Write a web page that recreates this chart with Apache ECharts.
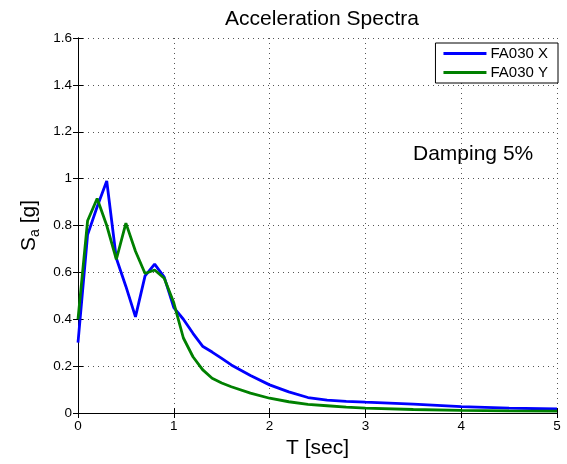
<!DOCTYPE html>
<html>
<head>
<meta charset="utf-8">
<script src="https://cdn.jsdelivr.net/npm/echarts@6/dist/echarts.min.js"></script>
<style>html,body{margin:0;padding:0;background:#fff}#c{width:567px;height:464px}</style>
</head>
<body>
<div id="c"></div>
<script>
var periods = [0,0.1,0.2,0.3,0.4,0.5,0.6,0.7,0.8,0.9,1.0,1.1,1.2,1.3,1.4,1.5,1.6,1.8,2.0,2.2,2.4,2.6,2.8,3.0,3.5,4.0,4.5,5.0];
var saX = [0.30,0.76,0.88,0.99,0.66,0.54,0.41,0.585,0.635,0.58,0.45,0.40,0.34,0.285,0.26,0.233,0.205,0.16,0.12,0.09,0.066,0.055,0.05,0.046,0.038,0.027,0.021,0.017];
var saY = [0.40,0.82,0.915,0.80,0.655,0.81,0.69,0.595,0.61,0.575,0.47,0.32,0.24,0.185,0.148,0.128,0.112,0.085,0.063,0.048,0.037,0.031,0.025,0.021,0.015,0.011,0.009,0.008];
var seriesNames = ['FA030 X','FA030 Y'];
var xTicks = [0,1,2,3,4,5];
var yTicks = [0,0.2,0.4,0.6,0.8,1,1.2,1.4,1.6];

function pairs(xs, ys){ return xs.map(function(x,i){return [x, ys[i]];}); }
var font = 'Liberation Sans, Arial, Helvetica, sans-serif';
var chart = echarts.init(document.getElementById('c'), null, {renderer:'canvas'});
var axisCommon = {
  axisLine:{show:true,lineStyle:{color:'#000',width:1}},
  axisTick:{show:true,inside:true,length:5,lineStyle:{color:'#000'}},
  splitLine:{show:false}
};
chart.setOption({
  animation:false,
  backgroundColor:'#fff',
  title:{text:'Acceleration Spectra',left:317,textAlign:'center',top:4,
    textStyle:{fontFamily:font,fontSize:21,fontWeight:'normal',color:'#000'}},
  legend:{right:9,top:43,orient:'vertical',data:seriesNames,
    backgroundColor:'#fff',borderColor:'#000',borderWidth:1,padding:[3,10,3,8],itemGap:4,
    icon:'rect',itemWidth:43,itemHeight:3,
    textStyle:{fontFamily:font,fontSize:15,color:'#000',padding:[0,0,0,-1]}},
  grid:{left:78,right:10,top:38,bottom:51,containLabel:false},
  xAxis:[
    Object.assign({type:'value',min:0,max:5,interval:1,position:'bottom',
      name:'T [sec]',nameLocation:'middle',nameGap:18,
      nameTextStyle:{fontFamily:font,fontSize:21,color:'#000'},
      axisLabel:{fontFamily:font,fontSize:13.5,color:'#000',margin:6,
        formatter:function(v){return xTicks.indexOf(v)>=0?String(v):'';}}
    }, axisCommon, {splitLine:{show:true,lineStyle:{color:'#555',type:[1,4],width:1}}}),
    Object.assign({type:'value',min:0,max:5,interval:1,position:'top',axisLabel:{show:false}}, axisCommon)
  ],
  yAxis:[
    Object.assign({type:'value',min:0,max:1.6,interval:0.2,position:'left',
      name:'{s|S}{sub|a}{s| [g]}',nameLocation:'middle',nameGap:35,
      nameTextStyle:{rich:{s:{fontFamily:font,fontSize:21,color:'#000'},sub:{fontFamily:font,fontSize:14,color:'#000',padding:[12,0,0,0]}}},
      axisLabel:{fontFamily:font,fontSize:13.5,color:'#000',margin:6,
        formatter:function(v){var r=Math.round(v*10)/10; return String(r);}}
    }, axisCommon, {splitLine:{show:true,lineStyle:{color:'#555',type:[1,4],width:1}}}),
    Object.assign({type:'value',min:0,max:1.6,interval:0.2,position:'right',axisLabel:{show:false}}, axisCommon)
  ],
  graphic:[{type:'text',left:413,top:144,style:{text:'Damping 5%',fontFamily:font,fontSize:21,fill:'#000'}}],
  series:[
    {name:seriesNames[0],type:'line',data:pairs(periods,saX),symbol:'none',smooth:false,
      lineStyle:{color:'#0000ff',width:2.8},itemStyle:{color:'#0000ff'},z:3},
    {name:seriesNames[1],type:'line',data:pairs(periods,saY),symbol:'none',smooth:false,
      lineStyle:{color:'#008000',width:2.8},itemStyle:{color:'#008000'},z:4}
  ]
});
</script>
</body>
</html>
